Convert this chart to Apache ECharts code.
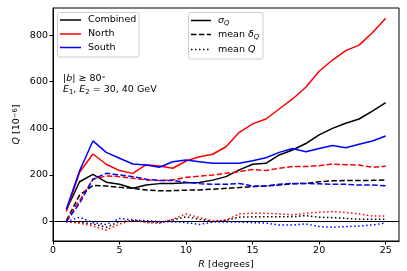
<!DOCTYPE html>
<html>
<head>
<meta charset="utf-8">
<script src="https://cdn.jsdelivr.net/npm/echarts@6/dist/echarts.min.js"></script>
<style>html,body{margin:0;padding:0;background:#fff}#c{width:407px;height:271px}</style>
</head>
<body>
<div id="c"></div>
<script>
const R = [1,2,3,4,5,6,7,8,9,10,11,12,13,14,15,16,17,18,19,20,21,22,23,24,25];
const xTicks = [0,5,10,15,20,25];
const yTicks = [0,200,400,600,800];

const sigmaCombined = [50,171,203,169,160,143,157,163,164,167,168,178,193,222,246,250,286,307,335,372,400,422,440,474,510];
const sigmaNorth    = [43,212,290,246,219,207,244,239,229,260,278,289,321,383,419,440,483,526,576,645,693,733,757,810,872];
const sigmaSouth    = [53,218,346,297,272,247,243,233,257,264,257,250,250,250,261,274,297,314,300,314,326,317,332,346,367];

const deltaCombined = [4,114,155,153,147,143,136,132,133,135,136,139,143,146,150,153,157,162,164,171,175,176,176,177,179];
const deltaNorth    = [6,90,182,196,193,186,179,176,179,190,195,200,207,214,224,219,229,236,236,240,247,244,243,233,238];
const deltaSouth    = [0,79,182,207,200,193,182,176,176,169,163,160,160,164,153,153,160,164,164,162,160,160,157,157,154];

const qCombined = [0,-3,-10,-24,0,4,0,-4,7,21,10,0,6,19,21,21,21,21,26,19,17,14,10,10,10];
const qNorth    = [0,-7,-19,-36,-10,7,-4,-7,10,33,17,4,6,33,36,36,33,29,36,40,43,40,33,24,24];
const qSouth    = [0,19,-4,-12,14,7,4,0,0,-4,-12,-2,-2,-2,-4,-6,-14,-14,-10,-21,-24,-21,-19,-14,-6];

const FONT = 'DejaVu Sans';
const BLACK = '#000000', RED = '#ff0000', BLUE = '#0000ff';
const DASH = [5.5, 2.4], DOT = [1.5, 2.5];

function pts(arr){ return R.map((r,i)=>[r, arr[i]]); }
function mk(name, arr, color, type){
  return {
    name, type:'line', data: pts(arr), showSymbol:false, symbol:'none',
    lineStyle:{color, width:1.5, type: type, cap:'butt'},
    itemStyle:{color}, animation:false, silent:true, z:3
  };
}

const series = [
  mk('Combined σ', sigmaCombined, BLACK, 'solid'),
  mk('Combined δ', deltaCombined, BLACK, DASH),
  mk('Combined Q', qCombined, BLACK, DOT),
  mk('North σ', sigmaNorth, RED, 'solid'),
  mk('North δ', deltaNorth, RED, DASH),
  mk('North Q', qNorth, RED, DOT),
  mk('South σ', sigmaSouth, BLUE, 'solid'),
  mk('South δ', deltaSouth, BLUE, DASH),
  mk('South Q', qSouth, BLUE, DOT)
];
series[0].markLine = {
  silent:true, symbol:['none','none'], animation:false,
  label:{show:false},
  lineStyle:{color:'#000', width:1, type:'solid'},
  data:[{yAxis:0}]
};
series[0].markLine.z = 2;

const fs = 9.5;
const rich = {
  n:{fontFamily:FONT, fontSize:fs, color:'#000'},
  i:{fontFamily:FONT, fontSize:fs, fontStyle:'italic', color:'#000'},
  sub:{fontFamily:FONT, fontSize:6.8, fontStyle:'italic', color:'#000', verticalAlign:'bottom', padding:[4,0,0,0]},
  subn:{fontFamily:FONT, fontSize:6.8, color:'#000', verticalAlign:'bottom', padding:[4,0,0,0]},
  sup:{fontFamily:FONT, fontSize:6.8, color:'#000', verticalAlign:'top', padding:[0,0,4,0]}
};

function txt(x, y, text, extra){
  return Object.assign({
    type:'text', x, y, silent:true, z:20,
    style:{text, fontFamily:FONT, fontSize:fs, fill:'#000', rich, verticalAlign:'middle', align:'left'}
  }, extra||{});
}
function ln(x1,x2,y,color,dash){
  return {type:'line', silent:true, z:20, shape:{x1, y1:y, x2, y2:y},
    style:{stroke:color, lineWidth:1.5, lineDash: dash||null}};
}

const graphic = [
  // legend 1
  {type:'rect', silent:true, z:19, shape:{x:57.5, y:12.5, width:81.5, height:44.5, r:2},
   style:{fill:'rgba(255,255,255,0.8)', stroke:'#cccccc', lineWidth:1}},
  ln(60,81,20,BLACK), txt(88,20,'Combined'),
  ln(60,81,34,RED), txt(88,34,'North'),
  ln(60,81,47.5,BLUE), txt(88,47.5,'South'),
  // legend 2
  {type:'rect', silent:true, z:19, shape:{x:188.5, y:12.5, width:74.5, height:46.5, r:2},
   style:{fill:'rgba(255,255,255,0.8)', stroke:'#cccccc', lineWidth:1}},
  ln(191,211,20.5,BLACK), txt(218,21,'{i|σ}{sub|Q}'),
  ln(191,211,34.5,BLACK,DASH), txt(218,35,'{n|mean }{i|δ}{sub|Q}'),
  ln(191,211,49.5,BLACK,DOT), txt(218,49.5,'{n|mean }{i|Q}'),
  // annotation
  txt(63,79,'{n||}{i|b}{n|| ≥ 80}{sup|∘}'),
  txt(63,90,'{i|E}{subn|1}{n|, }{i|E}{subn|2}{n| = 30, 40 GeV}'),
  // axis titles
  txt(226,265,'{i|R}{n| [degrees]}', {style:{text:'{i|R}{n| [degrees]}', fontFamily:FONT, fontSize:fs, fill:'#000', rich, align:'center', verticalAlign:'middle'}}),
  {type:'text', silent:true, z:20, x:17, y:124.5, rotation:Math.PI/2,
   style:{text:'{i|Q}{n| [10}{sup|−6}{n|]}', fontFamily:FONT, fontSize:fs, fill:'#000', rich, align:'center', verticalAlign:'middle'}}
];

const chart = echarts.init(document.getElementById('c'), null, {renderer:'canvas'});
chart.setOption({
  animation:false,
  backgroundColor:'#ffffff',
  grid:{left:53, right:8, top:8, bottom:30, show:true, borderColor:'#000', borderWidth:1, backgroundColor:'transparent'},
  xAxis:{
    type:'value', min:0, max:26,
    axisLine:{show:true, onZero:false, lineStyle:{color:'#000', width:1}},
    axisTick:{show:true, length:3.5, inside:false, customValues:xTicks, lineStyle:{color:'#000', width:1}},
    axisLabel:{show:true, customValues:xTicks, color:'#000', fontFamily:FONT, fontSize:fs, margin:5},
    splitLine:{show:false}
  },
  yAxis:{
    type:'value', min:-83, max:916,
    axisLine:{show:true, onZero:false, lineStyle:{color:'#000', width:1}},
    axisTick:{show:true, length:3.5, inside:false, customValues:yTicks, lineStyle:{color:'#000', width:1}},
    axisLabel:{show:true, customValues:yTicks, color:'#000', fontFamily:FONT, fontSize:fs, margin:5},
    splitLine:{show:false}
  },
  series,
  graphic
});
</script>
</body>
</html>
